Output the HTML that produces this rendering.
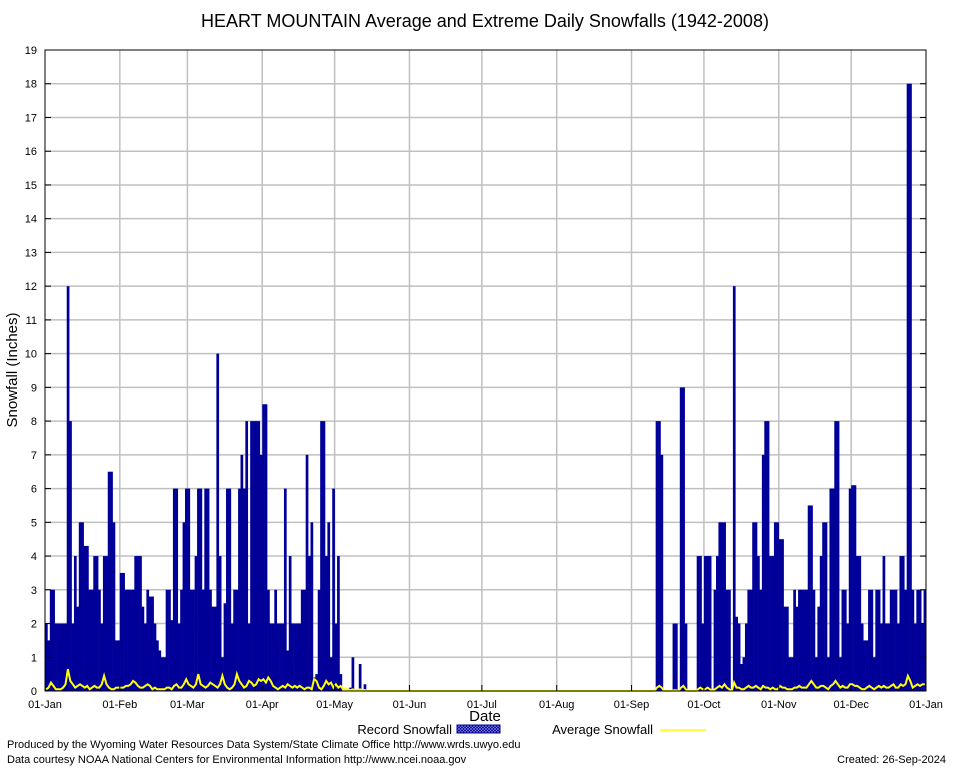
<!DOCTYPE html>
<html><head><meta charset="utf-8"><style>
body{margin:0;background:#fff;}
svg{display:block;font-family:"Liberation Sans",sans-serif;}
</style></head><body>
<svg id="chart" width="954" height="768">
<defs><pattern id="hatch" width="3" height="3" patternUnits="userSpaceOnUse"><rect width="3" height="3" fill="#000099"/><path d="M0 0L3 3M3 0L0 3" stroke="#8888dd" stroke-width="0.6"/></pattern></defs>
<rect x="0.5" y="0.5" width="953" height="767" fill="#fff" stroke="#fff"/>
<text x="485" y="27" font-size="18" text-anchor="middle">HEART MOUNTAIN Average and Extreme Daily Snowfalls (1942-2008)</text>
<g id="grid"></g>
<g id="bars"></g>
<g id="avg"></g>
<rect x="45" y="50" width="881" height="641" fill="none" stroke="#000" stroke-width="1"/>
<g id="ticks"></g>
<text x="17" y="370" font-size="15" text-anchor="middle" transform="rotate(-90 17 370)">Snowfall (Inches)</text>
<text x="485" y="721" font-size="15" text-anchor="middle">Date</text>
<g>
<text x="452" y="734" font-size="13" text-anchor="end">Record Snowfall</text>
<rect x="457" y="725" width="43" height="8" fill="url(#hatch)" stroke="#000099"/>
<text x="653" y="734" font-size="13" text-anchor="end">Average Snowfall</text>
<line x1="660" y1="730" x2="706" y2="730" stroke="#ffff00" stroke-width="1.5"/>
</g>
<text x="7" y="748" font-size="11">Produced by the Wyoming Water Resources Data System/State Climate Office http://www.wrds.uwyo.edu</text>
<text x="7" y="763" font-size="11">Data courtesy NOAA National Centers for Environmental Information http://www.ncei.noaa.gov</text>
<text x="946" y="763" font-size="11" text-anchor="end">Created:  26-Sep-2024</text>
</svg>
<script>
const monthLabels=["01-Jan","01-Feb","01-Mar","01-Apr","01-May","01-Jun","01-Jul","01-Aug","01-Sep","01-Oct","01-Nov","01-Dec","01-Jan"];
const monthStartDays=[0,31,59,90,120,151,181,212,243,273,304,334,365];
const yTicks=[0,1,2,3,4,5,6,7,8,9,10,11,12,13,14,15,16,17,18,19];
const recJan=[2,1.5,3,3,2,2,2,2,2,12,8,2,4,2.5,5,5,4.3,4.3,3,3,4,4,3,2,4,4,6.5,6.5,5,1.5,1.5];
const recFeb=[3.5,3.5,3,3,3,3,4,4,4,2.5,2,3,2.8,2.8,2,1.5,1.2,1,1,3,3,2.1,6,6,2,3,5,6];
const recMar=[6,3,3,4,6,6,3,6,6,3,2.5,2.5,10,4,1,2.6,6,6,2,3,3,6,7,6,8,2,8,8,8,8,7];
const recApr=[8.5,8.5,3,2,2,3,2,2,2,6,1.2,4,2,2,2,2,3,3,7,4,5,0.4,0.5,3,8,8,4,5,1,6];
const recMay=[2,4,0.5,0,0,0,0.1,1,0,0,0.8,0,0.2,0,0,0,0,0,0,0,0,0,0,0,0,0,0,0,0,0,0];
const recJun=[0,0,0,0,0,0,0,0,0,0,0,0,0,0,0,0,0,0,0,0,0,0,0,0,0,0,0,0,0,0];
const recJul=[0,0,0,0,0,0,0,0,0,0,0,0,0,0,0,0,0,0,0,0,0,0,0,0,0,0,0,0,0,0,0];
const recAug=[0,0,0,0,0,0,0,0,0,0,0,0,0,0,0,0,0,0,0,0,0,0,0,0,0,0,0,0,0,0,0];
const recSep=[0,0,0,0,0,0,0,0,0,0,8,8,7,0,0,0,0,2,2,0,9,9,2,0,0,0,0,4,4,2];
const recOct=[4,4,4,0,3,4,5,5,5,3,3,0,12,2.2,2,0.8,1,2,3,3,5,5,4,3,7,8,8,4,4,5,5];
const recNov=[4.5,4.5,2.5,2.5,1,1,3,2.5,3,3,3,3,5.5,5.5,3,1,2.5,4,5,5,1,6,6,8,8,1,3,3,2,6];
const recDec=[6.1,6.1,4,4,2,1.5,1.5,3,3,1,3,3,2,4,2,2,3,3,3,2,4,4,3,18,18,3,2,3,3,2,3];
const avgJan=[0.05,0.1,0.25,0.15,0.05,0.05,0.05,0.1,0.2,0.65,0.3,0.2,0.1,0.15,0.2,0.15,0.1,0.15,0.05,0.1,0.15,0.1,0.1,0.2,0.45,0.2,0.1,0.05,0.05,0.1,0.1];
const avgFeb=[0.1,0.1,0.15,0.15,0.2,0.3,0.25,0.15,0.1,0.1,0.15,0.2,0.15,0.05,0.1,0.05,0.05,0.05,0.05,0.1,0.1,0.05,0.15,0.2,0.1,0.1,0.2,0.35];
const avgMar=[0.2,0.15,0.1,0.2,0.5,0.2,0.15,0.1,0.15,0.25,0.2,0.15,0.1,0.2,0.45,0.2,0.1,0.05,0.1,0.2,0.5,0.3,0.2,0.1,0.15,0.3,0.25,0.15,0.2,0.35,0.3];
const avgApr=[0.35,0.25,0.4,0.3,0.15,0.1,0.05,0.1,0.15,0.1,0.2,0.15,0.1,0.15,0.1,0.15,0.1,0.05,0.1,0.1,0.05,0.35,0.3,0.1,0.05,0.15,0.3,0.2,0.25,0.1];
const avgMay=[0.2,0.1,0.15,0.05,0.05,0.05,0.02,0.05,0.02,0.02,0.05,0.02,0.03,0,0,0,0,0,0,0,0,0,0,0,0,0,0,0,0,0,0];
const avgJun=[0,0,0,0,0,0,0,0,0,0,0,0,0,0,0,0,0,0,0,0,0,0,0,0,0,0,0,0,0,0];
const avgJul=[0,0,0,0,0,0,0,0,0,0,0,0,0,0,0,0,0,0,0,0,0,0,0,0,0,0,0,0,0,0,0];
const avgAug=[0,0,0,0,0,0,0,0,0,0,0,0,0,0,0,0,0,0,0,0,0,0,0,0,0,0,0,0,0,0,0];
const avgSep=[0,0,0,0,0,0,0,0,0,0,0.1,0.15,0.1,0,0,0,0,0.02,0.02,0,0.1,0.15,0.05,0,0,0,0,0.05,0.1,0.05];
const avgOct=[0.05,0.1,0.05,0,0.05,0.1,0.15,0.1,0.2,0.1,0.05,0,0.25,0.1,0.1,0.05,0.05,0.1,0.15,0.1,0.1,0.15,0.1,0.05,0.15,0.1,0.1,0.05,0.1,0.05,0.05];
const avgNov=[0.15,0.1,0.1,0.05,0.05,0.05,0.1,0.1,0.15,0.1,0.1,0.1,0.2,0.3,0.2,0.1,0.1,0.15,0.15,0.1,0.05,0.15,0.2,0.3,0.2,0.1,0.15,0.1,0.1,0.2];
const avgDec=[0.2,0.15,0.15,0.1,0.05,0.05,0.1,0.15,0.1,0.05,0.1,0.15,0.1,0.15,0.1,0.1,0.15,0.2,0.1,0.1,0.2,0.15,0.2,0.45,0.3,0.1,0.15,0.2,0.15,0.2,0.2];
const recordSnow=[].concat(recJan,recFeb,recMar,recApr,recMay,recJun,recJul,recAug,recSep,recOct,recNov,recDec);
const avgSnow=[].concat(avgJan,avgFeb,avgMar,avgApr,avgMay,avgJun,avgJul,avgAug,avgSep,avgOct,avgNov,avgDec);

const NS="http://www.w3.org/2000/svg";
const X0=45,X1=926,Y0=691,Y1=50,YMAX=19,NDAYS=365;
const xScale=d=>X0+d*(X1-X0)/NDAYS;
const yScale=v=>Y0-v*(Y0-Y1)/YMAX;
function mk(tag,attrs,parent){const e=document.createElementNS(NS,tag);for(const k in attrs)e.setAttribute(k,attrs[k]);parent.appendChild(e);return e;}
const grid=document.getElementById('grid'),ticks=document.getElementById('ticks'),bars=document.getElementById('bars'),avg=document.getElementById('avg');
yTicks.forEach(t=>{
  const y=yScale(t);
  if(t>0&&t<YMAX){const g=mk('line',{x1:X0,x2:X1,y1:y,y2:y,stroke:'#c0c0c0','stroke-width':1.5},grid);
  
  }
  const a=mk('line',{x1:X0,x2:X0+6,y1:y,y2:y,stroke:'#000'},ticks);
  
  
  const b=mk('line',{x1:X1-6,x2:X1,y1:y,y2:y,stroke:'#000'},ticks);
  
  
  const tx=mk('text',{x:37,y:y+4,'font-size':11,'text-anchor':'end'},ticks);tx.textContent=t;
  
  
});
monthStartDays.forEach((d,i)=>{
  const x=xScale(d);
  if(i>0&&i<12){const g=mk('line',{x1:x,x2:x,y1:Y1,y2:Y0,stroke:'#c0c0c0','stroke-width':1.5},grid);
  
  }
  const tk=mk('line',{x1:x,x2:x,y1:Y0,y2:Y0-6,stroke:'#000'},ticks);
  
  
  const tx=mk('text',{x:x,y:708,'font-size':11,'text-anchor':'middle'},ticks);tx.textContent=monthLabels[i];
  
  
});
recordSnow.forEach((v,d)=>{
  if(v<=0)return;
  const x=xScale(d),w=xScale(d+1)-x,y=yScale(v);
  const r=mk('rect',{x:x,y:y,width:w+0.3,height:Y0-y,fill:'#000099'},bars);
  
  
});
const pts=avgSnow.map((v,d)=>xScale(d+0.5).toFixed(1)+','+yScale(v).toFixed(1)).join(' ');
const pl=mk('polyline',{points:pts,fill:'none',stroke:'#ffff00','stroke-width':2},avg);


</script>
</body></html>
